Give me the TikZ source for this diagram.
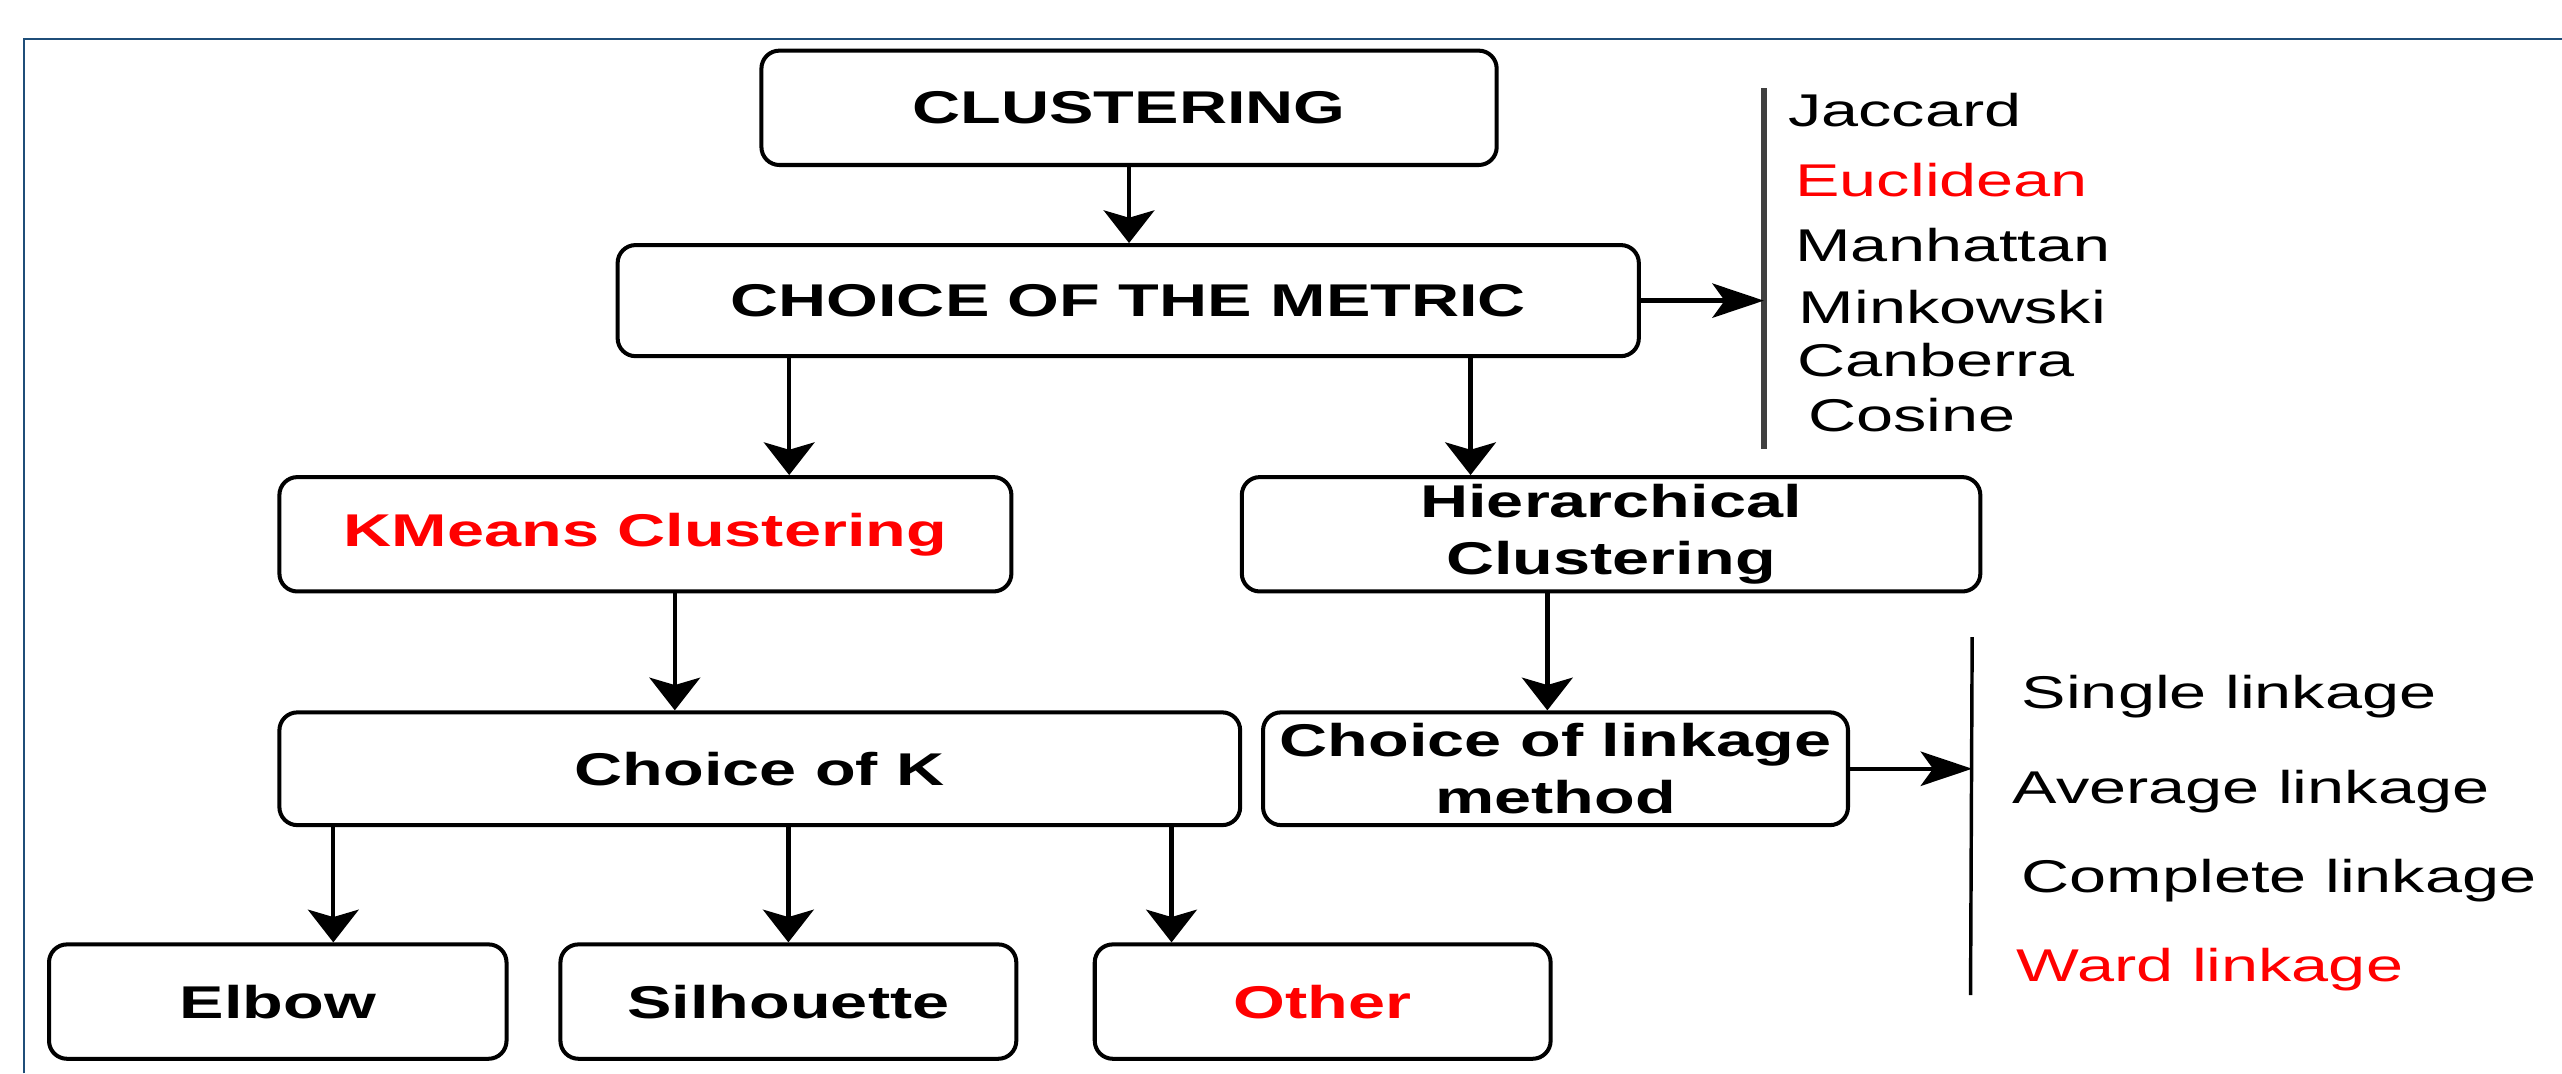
\documentclass[tikz,border=0pt]{standalone}
\usepackage{fontspec}
\setmainfont{Liberation Sans}[FakeStretch=1.45]
\usepackage{tikz}
\usetikzlibrary{arrows.meta}
\definecolor{framecol}{HTML}{1F4E79}
\definecolor{barcol}{HTML}{404040}
\definecolor{hired}{HTML}{FF0000}

\begin{document}
\begin{tikzpicture}[
    box/.style={draw, line width=1.4pt, rounded corners=0.22cm, fill=white, align=center,
      inner sep=0pt, minimum height=1.4cm, font=\fontsize{16}{20}\selectfont\bfseries},
    item/.style={anchor=base west, inner sep=0pt, font=\fontsize{16}{20}\selectfont},
    varrow/.style={-{Stealth[length=0.4cm, width=0.62cm, inset=0.09cm]}, line width=1.5pt},
    harrow/.style={-{Stealth[length=0.63cm, width=0.42cm, inset=0.15cm]}, line width=1.5pt}]
            \useasboundingbox (0, 0) rectangle (31.36, 13.14);
            \draw[framecol, line width=0.85pt] (0.294, 0) -- (0.294, 12.66) -- (31.36, 12.66);

            \node[box, minimum width=9cm] (clust) at (13.82, 11.82) {CLUSTERING};
            \node[box, minimum width=12.5cm, minimum height=1.36cm] (metric) at (13.81, 9.46) {CHOICE OF THE METRIC};
            \node[box, minimum width=8.96cm, text=hired] (kmeans) at (7.9, 6.6) {KMeans Clustering};
            \node[box, minimum width=9.04cm] (hier) at (19.72, 6.6) {Hierarchical\\Clustering};
            \node[box, minimum width=11.76cm, minimum height=1.38cm] (choicek) at (9.3, 3.73) {Choice of K};
            \node[box, minimum width=7.16cm, minimum height=1.38cm] (linkage) at (19.04, 3.73) {Choice of linkage\\method};
            \node[box, minimum width=5.6cm] (elbow) at (3.4, 0.88) {Elbow};
            \node[box, minimum width=5.58cm] (silh) at (9.65, 0.88) {Silhouette};
            \node[box, minimum width=5.58cm, text=hired] (other) at (16.19, 0.88) {Other};

            \coordinate (mtop) at (21.59, 12.06);
            \coordinate (mbot) at (21.59, 7.64);
            \coordinate (ltop) at (24.14, 5.34);
            \coordinate (lbot) at (24.12, 0.96);
            \draw[barcol, line width=2pt] (mtop) -- (mbot);
            \draw[line width=1.2pt] (ltop) -- (lbot);

            \node[item] (jaccard) at (21.88, 11.59) {Jaccard};
            \node[item, text=hired] (euclid) at (21.97, 10.73) {Euclidean};
            \node[item] (manhat) at (21.97, 9.94) {Manhattan};
            \node[item] (minkow) at (22.01, 9.18) {Minkowski};
            \node[item] (canber) at (21.99, 8.53) {Canberra};
            \node[item] (cosine) at (22.13, 7.86) {Cosine};

            \node[item] (single) at (24.74, 4.47) {Single linkage};
            \node[item] (average) at (24.63, 3.31) {Average linkage};
            \node[item] (complete) at (24.74, 2.21) {Complete linkage};
            \node[item, text=hired] (ward) at (24.68, 1.12) {Ward linkage};

            \coordinate (m2k) at ([xshift=-4.15cm]metric.south);
            \coordinate (m2h) at ([xshift=4.19cm]metric.south);
            \coordinate (k2c) at ([xshift=0.36cm]kmeans.south);
            \coordinate (h2l) at ([xshift=-0.78cm]hier.south);
            \coordinate (c2e) at (choicek.south -| 4.08, 0);
            \coordinate (c2s) at (choicek.south -| silh.north);
            \coordinate (c2o) at (choicek.south -| 14.34, 0);

            \draw[varrow] (clust.south) -- (clust.south |- metric.north);
            \draw[varrow] (m2k) -- (m2k |- kmeans.north);
            \draw[varrow] (m2h) -- (m2h |- hier.north);
            \draw[varrow] (k2c) -- (k2c |- choicek.north);
            \draw[varrow] (h2l) -- (h2l |- linkage.north);
            \draw[varrow] (c2e) -- (c2e |- elbow.north);
            \draw[varrow] (c2s) -- (silh.north);
            \draw[varrow] (c2o) -- (c2o |- other.north);
            \draw[harrow] (metric.east) -- (metric.east -| mtop);
            \draw[harrow] (linkage.east) -- (linkage.east -| ltop);
    \end{tikzpicture}
\end{document}
